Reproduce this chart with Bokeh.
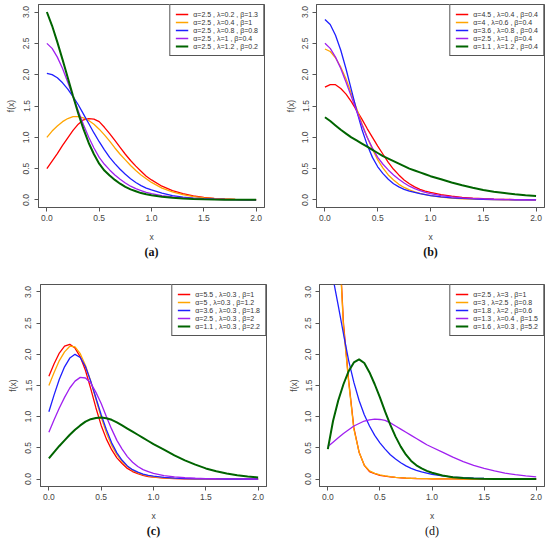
from bokeh.plotting import figure
from bokeh.models import (Legend, LegendItem, FixedTicker, PrintfTickFormatter, Range1d,
                          Title, BoxAnnotation)
from bokeh.layouts import column, row
from bokeh.embed import file_html
from bokeh.resources import INLINE

# ---------------- data ----------------
x_vals = [0.0, 0.05, 0.1, 0.15, 0.2, 0.25, 0.3, 0.35, 0.4, 0.45, 0.5, 0.55, 0.6, 0.65,
          0.7, 0.75, 0.8, 0.85, 0.9, 0.95, 1.0, 1.1, 1.2, 1.3, 1.4, 1.5, 1.6, 1.7, 1.8, 1.9, 2.0]

x_ticks = [0.0, 0.5, 1.0, 1.5, 2.0]
y_ticks = [0.0, 0.5, 1.0, 1.5, 2.0, 2.5, 3.0]

# panel (a)
a_red = [0.50, 0.62, 0.74, 0.87, 0.99, 1.11, 1.21, 1.28, 1.30, 1.29, 1.25, 1.16, 1.06, 0.95,
         0.84, 0.73, 0.63, 0.54, 0.46, 0.38, 0.32, 0.22, 0.15, 0.10, 0.065, 0.04, 0.025, 0.016, 0.01, 0.006, 0.004]
a_orange = [1.00, 1.10, 1.18, 1.25, 1.30, 1.33, 1.33, 1.31, 1.27, 1.21, 1.13, 1.04, 0.94, 0.83,
            0.73, 0.64, 0.55, 0.47, 0.40, 0.34, 0.28, 0.19, 0.13, 0.085, 0.055, 0.035, 0.022, 0.014, 0.009, 0.006, 0.004]
a_blue = [2.02, 2.00, 1.95, 1.87, 1.77, 1.65, 1.52, 1.37, 1.22, 1.07, 0.93, 0.80, 0.68, 0.58,
          0.49, 0.41, 0.34, 0.28, 0.23, 0.19, 0.16, 0.11, 0.07, 0.047, 0.031, 0.02, 0.013, 0.009, 0.006, 0.004, 0.003]
a_purple = [2.50, 2.42, 2.28, 2.10, 1.88, 1.65, 1.42, 1.20, 1.00, 0.83, 0.68, 0.57, 0.48, 0.40,
            0.33, 0.27, 0.22, 0.18, 0.15, 0.12, 0.10, 0.07, 0.05, 0.035, 0.025, 0.017, 0.012, 0.008, 0.006, 0.004, 0.003]
a_green = [3.00, 2.78, 2.52, 2.24, 1.95, 1.66, 1.38, 1.13, 0.91, 0.73, 0.58, 0.47, 0.39, 0.32,
           0.26, 0.21, 0.17, 0.14, 0.11, 0.09, 0.075, 0.05, 0.035, 0.025, 0.017, 0.012, 0.008, 0.005, 0.004, 0.003, 0.002]
a_labels = ["α=2.5 , λ=0.2 , β=1.3", "α=2.5 , λ=0.4 , β=1", "α=2.5 , λ=0.8 , β=0.8",
            "α=2.5 , λ=1 , β=0.4", "α=2.5 , λ=1.2 , β=0.2"]

# panel (b)
b_red = [1.80, 1.84, 1.84, 1.78, 1.69, 1.57, 1.43, 1.29, 1.14, 1.00, 0.86, 0.73, 0.60, 0.49,
         0.40, 0.32, 0.26, 0.21, 0.17, 0.14, 0.12, 0.085, 0.06, 0.04, 0.028, 0.02, 0.014, 0.01, 0.007, 0.005, 0.003]
b_orange = [2.41, 2.37, 2.27, 2.12, 1.93, 1.70, 1.46, 1.22, 1.00, 0.81, 0.64, 0.51, 0.40, 0.32,
            0.25, 0.20, 0.16, 0.13, 0.105, 0.085, 0.07, 0.045, 0.03, 0.02, 0.013, 0.009, 0.006, 0.004, 0.003, 0.002, 0.001]
b_blue = [2.88, 2.80, 2.63, 2.39, 2.09, 1.76, 1.43, 1.13, 0.88, 0.68, 0.53, 0.42, 0.33, 0.26,
          0.21, 0.17, 0.14, 0.12, 0.10, 0.085, 0.07, 0.05, 0.035, 0.025, 0.018, 0.012, 0.008, 0.006, 0.004, 0.003, 0.002]
b_purple = [2.50, 2.42, 2.28, 2.10, 1.88, 1.65, 1.42, 1.20, 1.00, 0.83, 0.68, 0.57, 0.48, 0.40,
            0.33, 0.27, 0.22, 0.18, 0.15, 0.12, 0.10, 0.07, 0.05, 0.035, 0.025, 0.017, 0.012, 0.008, 0.006, 0.004, 0.003]
b_green = [1.32, 1.26, 1.19, 1.12, 1.06, 1.00, 0.95, 0.90, 0.85, 0.80, 0.75, 0.70, 0.66, 0.62,
           0.58, 0.54, 0.50, 0.47, 0.44, 0.41, 0.38, 0.33, 0.28, 0.235, 0.195, 0.16, 0.13, 0.11, 0.09, 0.075, 0.065]
b_labels = ["α=4.5 , λ=0.4 , β=0.4", "α=4 , λ=0.6 , β=0.4", "α=3.6 , λ=0.8 , β=0.4",
            "α=2.5 , λ=1 , β=0.4", "α=1.1 , λ=1.2 , β=0.4"]

# panel (c)
c_red = [1.65, 1.85, 2.02, 2.13, 2.16, 2.10, 1.96, 1.74, 1.45, 1.14, 0.86, 0.64, 0.47, 0.34,
         0.25, 0.17, 0.12, 0.085, 0.06, 0.04, 0.03, 0.015, 0.008, 0.004, 0.002, 0.001, 0.0, 0.0, 0.0, 0.0, 0.0]
c_orange = [1.50, 1.71, 1.90, 2.04, 2.13, 2.12, 2.01, 1.82, 1.57, 1.28, 0.99, 0.74, 0.54, 0.39,
            0.28, 0.20, 0.14, 0.10, 0.07, 0.05, 0.035, 0.018, 0.009, 0.005, 0.0025, 0.001, 0.0, 0.0, 0.0, 0.0, 0.0]
c_blue = [1.08, 1.35, 1.60, 1.80, 1.94, 2.00, 1.95, 1.80, 1.57, 1.30, 1.03, 0.79, 0.58, 0.42,
          0.30, 0.21, 0.15, 0.11, 0.08, 0.06, 0.045, 0.025, 0.014, 0.008, 0.004, 0.002, 0.001, 0.0, 0.0, 0.0, 0.0]
c_purple = [0.75, 0.95, 1.14, 1.31, 1.46, 1.57, 1.63, 1.62, 1.54, 1.39, 1.21, 1.00, 0.80, 0.62,
            0.48, 0.36, 0.27, 0.20, 0.15, 0.12, 0.09, 0.055, 0.033, 0.02, 0.012, 0.007, 0.004, 0.002, 0.001, 0.0005, 0.0]
c_green = [0.33, 0.43, 0.53, 0.62, 0.71, 0.79, 0.86, 0.92, 0.96, 0.98, 0.985, 0.975, 0.95, 0.91,
           0.86, 0.81, 0.76, 0.71, 0.66, 0.61, 0.56, 0.47, 0.38, 0.30, 0.23, 0.17, 0.125, 0.09, 0.06, 0.04, 0.025]
c_labels = ["α=5.5 , λ=0.3 , β=1", "α=5 , λ=0.3 , β=1.2", "α=3.6 , λ=0.3 , β=1.8",
            "α=2.5 , λ=0.3 , β=2", "α=1.1 , λ=0.3 , β=2.2"]

# panel (d)
d_red = [7.5, 5.75, 4.15, 2.5, 1.58, 0.82, 0.43, 0.22, 0.12, 0.085, 0.06, 0.045, 0.034, 0.026,
         0.02, 0.015, 0.011, 0.008, 0.006, 0.005, 0.004, 0.002, 0.001, 0.0, 0.0, 0.0, 0.0, 0.0, 0.0, 0.0, 0.0]
d_orange = [7.5, 5.7, 4.1, 2.45, 1.55, 0.80, 0.43, 0.22, 0.13, 0.09, 0.065, 0.05, 0.037, 0.028,
            0.021, 0.016, 0.012, 0.009, 0.007, 0.005, 0.004, 0.002, 0.001, 0.0, 0.0, 0.0, 0.0, 0.0, 0.0, 0.0, 0.0]
d_blue = [3.6, 3.22, 2.78, 2.33, 1.90, 1.55, 1.26, 1.03, 0.85, 0.70, 0.58, 0.48, 0.39, 0.32,
          0.26, 0.21, 0.17, 0.14, 0.115, 0.095, 0.075, 0.05, 0.032, 0.02, 0.012, 0.008, 0.005, 0.003, 0.002, 0.001, 0.0005]
d_purple = [0.52, 0.59, 0.66, 0.73, 0.79, 0.85, 0.89, 0.93, 0.95, 0.96, 0.955, 0.94, 0.90, 0.85,
            0.80, 0.75, 0.70, 0.65, 0.60, 0.55, 0.51, 0.43, 0.35, 0.28, 0.22, 0.17, 0.13, 0.095, 0.07, 0.05, 0.035]
d_green = [0.48, 0.93, 1.26, 1.52, 1.73, 1.87, 1.92, 1.86, 1.71, 1.52, 1.31, 1.08, 0.87, 0.68,
           0.52, 0.39, 0.29, 0.22, 0.17, 0.13, 0.10, 0.055, 0.03, 0.016, 0.008, 0.004, 0.002, 0.001, 0.0, 0.0, 0.0]
d_labels = ["α=2.5 , λ=3 , β=1", "α=3 , λ=2.5 , β=0.8", "α=1.8 , λ=2 , β=0.6",
            "α=1.3 , λ=0.4 , β=1.5", "α=1.6 , λ=0.3 , β=5.2"]

panel_tags = ["(a)", "(b)", "(c)", "(d)"]

# ---------------- styling ----------------
colors = ["#FF0000", "#FFA500", "#1F1FFF", "#A020F0", "#006400"]
widths = [1.3, 1.3, 1.3, 1.3, 2.0]
SANS = "Liberation Sans"
SERIF = "Liberation Serif"
TXT = "#444444"
BOX = "#555555"


def panel(series, labels, tag, tag_off, bold, width, height,
          bl, br, bt, bb, lab_stand, ax_stand):
    p = figure(width=width, height=height,
               x_range=Range1d(-0.08, 2.08), y_range=Range1d(-0.12, 3.12),
               output_backend="svg", toolbar_location=None,
               min_border_left=bl, min_border_right=br,
               min_border_top=bt, min_border_bottom=bb)
    p.background_fill_color = "white"
    p.border_fill_color = "white"
    p.outline_line_color = BOX
    p.outline_line_width = 1
    p.xgrid.visible = False
    p.ygrid.visible = False

    items = []
    for ys, lab, col, lw in zip(series, labels, colors, widths):
        r = p.line(x_vals, ys, line_color=col, line_width=lw)
        items.append(LegendItem(label=lab, renderers=[r]))

    # frame box (R style bty="o")
    p.add_layout(BoxAnnotation(fill_alpha=0.0, line_color=BOX, line_width=1, line_alpha=1.0))

    leg = Legend(items=items, location="top_right", margin=0, padding=5, spacing=0,
                 label_text_font=SANS, label_text_font_size="7px", label_text_color="#333333",
                 label_height=8, glyph_height=8, glyph_width=13, label_standoff=5,
                 border_line_color=BOX, border_line_width=1, border_line_alpha=1.0,
                 background_fill_color="white", background_fill_alpha=1.0)
    p.add_layout(leg)

    p.xaxis.ticker = FixedTicker(ticks=x_ticks)
    p.yaxis.ticker = FixedTicker(ticks=y_ticks)
    p.xaxis.formatter = PrintfTickFormatter(format="%.1f")
    p.yaxis.formatter = PrintfTickFormatter(format="%.1f")
    for ax in (p.xaxis[0], p.yaxis[0]):
        ax.axis_line_color = BOX
        ax.major_tick_out = 4
        ax.major_tick_in = 0
        ax.major_tick_line_color = BOX
        ax.minor_tick_line_color = None
        ax.major_label_text_font = SANS
        ax.major_label_text_font_size = "8.5px"
        ax.major_label_text_color = TXT
        ax.axis_label_text_font = SANS
        ax.axis_label_text_font_size = "8.5px"
        ax.axis_label_text_font_style = "normal"
        ax.axis_label_text_color = TXT
    p.xaxis.axis_label = "x"
    p.yaxis.axis_label = "f(x)"
    p.yaxis.major_label_orientation = "vertical"
    p.xaxis.major_label_standoff = 3
    p.xaxis.axis_label_standoff = 8
    p.yaxis.major_label_standoff = lab_stand
    p.yaxis.axis_label_standoff = ax_stand

    p.add_layout(Title(text=tag, align="center", offset=tag_off, standoff=-4,
                       text_font=SERIF, text_font_style="bold" if bold else "normal",
                       text_font_size="12px", text_color="#111111"), "below")
    return p


pa = panel([a_red, a_orange, a_blue, a_purple, a_green], a_labels, panel_tags[0],
           -11, True, 275, 270, 38, 11, 4, 63, 5, 5)
pb = panel([b_red, b_orange, b_blue, b_purple, b_green], b_labels, panel_tags[1],
           -10, True, 275, 270, 41, 6, 4, 63, 4, 4)
pc = panel([c_red, c_orange, c_blue, c_purple, c_green], c_labels, panel_tags[2],
           -4, True, 275, 277, 40, 9, 14, 61, 5, 5)
pd_ = panel([d_red, d_orange, d_blue, d_purple, d_green], d_labels, panel_tags[3],
            -3, False, 275, 277, 44, 6, 14, 61, 4, 4)

layout = column(row(pa, pb), row(pc, pd_))
open("out.html", "w").write(file_html(layout, INLINE))
